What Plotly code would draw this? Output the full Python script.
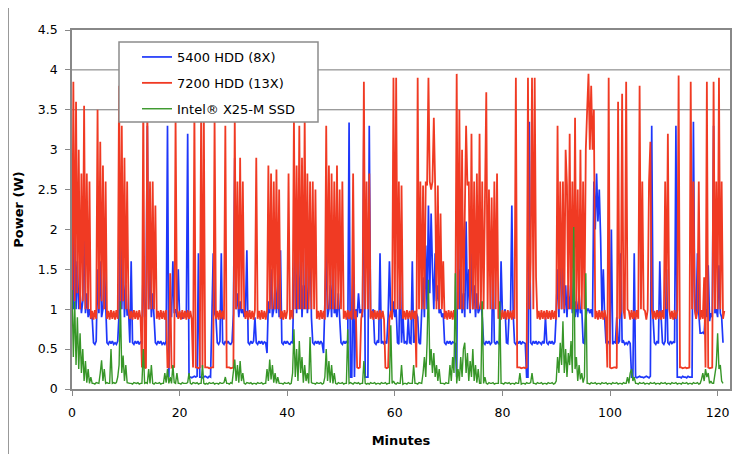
import plotly.graph_objects as go

# sampling step of the power traces, minutes
step_min = 0.25

# 5400 RPM HDD power (W), 4 samples per minute
hdd5400 = [
    2.5, 1.0, 2.3, 1.0,
    1.6, 1.0, 1.2, 0.95,
    1.1, 2.1, 0.95, 1.2,
    0.9, 1.0, 0.88, 0.9,
    0.58, 0.56, 0.6, 1.5,
    0.95, 1.6, 0.9, 1.0,
    1.6, 0.9, 0.58, 0.56,
    0.6, 0.57, 0.6, 0.56,
    0.58, 0.56, 0.6, 0.95,
    2.5, 1.0, 1.7, 0.9,
    1.3, 0.92, 1.0, 0.58,
    1.6, 0.58, 0.56, 0.6,
    0.57, 0.6, 0.56, 0.59,
    0.58, 1.7, 0.9, 0.95,
    3.3, 1.0, 1.5, 0.9,
    1.2, 0.9, 0.58, 0.56,
    0.6, 0.57, 0.6, 0.56,
    0.58, 0.56, 0.6, 3.3,
    0.15, 1.0, 0.9, 1.6,
    0.95, 1.0, 0.9, 1.5,
    0.9, 0.95, 0.88, 0.9,
    0.92, 0.9, 3.2, 0.15,
    0.15, 0.14, 0.15, 0.16,
    0.15, 0.16, 1.7, 0.15,
    0.15, 0.14, 0.15, 0.16,
    0.15, 0.14, 0.16, 0.15,
    0.9, 1.7, 0.95, 0.9,
    0.58, 0.56, 0.6, 1.7,
    0.58, 0.56, 0.6, 0.57,
    0.6, 0.57, 0.56, 0.59,
    0.95, 2.9, 1.0, 1.2,
    0.9, 1.1, 0.95, 1.0,
    0.9, 1.0, 1.74, 0.58,
    0.56, 0.6, 0.57, 0.6,
    0.9, 0.58, 0.56, 0.6,
    0.57, 0.6, 0.56, 0.59,
    0.58, 0.45, 1.1, 0.95,
    1.5, 0.9, 1.0, 1.3,
    0.95, 1.4, 0.9, 1.74,
    0.58, 0.56, 0.6, 0.57,
    0.6, 0.57, 0.56, 0.59,
    0.58, 1.2, 2.1, 0.95,
    1.5, 1.0, 1.8, 0.9,
    1.3, 1.0, 2.0, 0.95,
    1.2, 2.1, 0.9, 0.58,
    0.56, 0.6, 0.57, 0.6,
    0.56, 0.6, 0.57, 0.45,
    0.95, 1.7, 0.9, 1.0,
    1.3, 0.9, 1.7, 0.95,
    1.0, 0.9, 1.2, 0.95,
    0.58, 0.56, 0.6, 0.57,
    0.6, 0.57, 3.34, 0.15,
    0.15, 1.7, 0.15, 1.0,
    0.9, 1.2, 0.95, 1.0,
    0.9, 3.3, 0.15, 0.15,
    0.15, 3.3, 0.9, 0.95,
    1.0, 0.58, 0.56, 0.6,
    0.58, 1.7, 0.57, 0.6,
    0.56, 0.59, 0.57, 0.9,
    1.6, 0.95, 0.9, 1.1,
    0.9, 1.0, 0.58, 0.56,
    1.6, 0.58, 0.95, 0.57,
    0.6, 0.56, 0.9, 0.58,
    0.57, 1.6, 0.58, 0.6,
    0.95, 0.9, 0.58, 0.56,
    1.0, 1.4, 0.9, 1.8,
    1.0, 2.3, 1.2, 2.2,
    1.5, 1.0, 1.7, 1.1,
    1.3, 0.95, 1.0, 0.9,
    0.95, 0.58, 0.56, 0.6,
    0.57, 0.6, 0.56, 0.59,
    0.58, 0.57, 0.15, 2.5,
    1.0, 1.5, 0.95, 1.2,
    0.9, 2.1, 1.0, 1.5,
    0.95, 1.7, 1.0, 1.3,
    0.9, 1.2, 0.95, 1.0,
    1.1, 0.9, 0.58, 0.56,
    0.6, 0.57, 0.6, 0.56,
    0.58, 1.7, 0.59, 0.56,
    0.6, 0.57, 0.59, 1.6,
    0.95, 0.9, 1.0, 0.58,
    0.57, 0.95, 0.9, 2.3,
    0.95, 0.58, 0.56, 0.6,
    0.57, 0.6, 0.56, 0.59,
    0.58, 0.57, 0.15, 0.15,
    3.35, 0.58, 0.56, 0.6,
    0.57, 0.6, 0.56, 0.59,
    0.58, 0.56, 0.6, 0.57,
    0.9, 0.58, 0.56, 0.6,
    0.57, 0.6, 0.56, 0.59,
    0.95, 1.5, 0.9, 2.0,
    1.0, 1.6, 0.95, 1.3,
    0.9, 1.3, 1.0, 1.2,
    0.95, 1.5, 0.9, 1.1,
    0.9, 1.2, 0.95, 1.0,
    0.58, 0.57, 0.9, 1.0,
    1.0, 0.95, 1.0, 0.9,
    2.6, 2.0, 2.7, 2.1,
    2.5, 1.9, 0.95, 1.5,
    0.9, 0.58, 0.56, 0.6,
    0.57, 2.0, 0.56, 0.59,
    0.58, 0.9, 0.57, 0.6,
    1.7, 0.58, 0.6, 0.56,
    0.58, 0.56, 0.6, 0.57,
    0.15, 0.15, 1.7, 0.15,
    0.14, 0.15, 0.16, 0.15,
    0.15, 0.14, 0.15, 0.16,
    0.15, 0.14, 0.16, 3.3,
    0.9, 0.58, 0.56, 0.6,
    0.57, 1.6, 0.9, 0.58,
    0.56, 0.6, 1.5, 0.58,
    0.56, 0.6, 0.57, 0.59,
    0.58, 3.3, 0.15, 0.15,
    0.15, 0.14, 0.16, 0.15,
    0.15, 0.14, 0.16, 0.15,
    0.15, 0.15, 3.35, 1.0,
    0.9, 1.7, 0.95, 0.7,
    0.7, 0.71, 0.69, 1.0,
    0.9, 1.55, 0.85, 0.95,
    0.9, 3.3, 0.95, 1.0,
    0.9, 1.55, 0.95, 0.9,
    0.58,
]

# 7200 RPM HDD power (W), 4 samples per minute
hdd7200 = [
    1.0, 3.85, 1.1, 3.6,
    1.2, 3.0, 1.0, 2.7,
    1.1, 3.55, 1.0, 2.7,
    1.0, 2.6, 0.88, 0.98,
    0.87, 0.99, 0.88, 3.5,
    1.0, 3.1, 1.1, 2.8,
    1.0, 2.6, 0.88, 0.98,
    0.87, 0.99, 0.88, 0.98,
    0.87, 0.99, 0.88, 3.8,
    1.0, 3.3, 1.1, 2.9,
    1.0, 2.6, 1.0, 0.88,
    0.98, 0.87, 0.99, 0.88,
    0.98, 0.87, 0.99, 0.88,
    0.27, 3.65, 0.27, 0.26,
    3.6, 1.0, 2.6, 1.0,
    2.6, 1.0, 2.3, 0.88,
    0.98, 0.87, 0.99, 0.88,
    0.98, 0.87, 0.99, 0.27,
    0.27, 1.45, 0.27, 0.28,
    0.27, 3.4, 1.0, 0.88,
    0.98, 0.87, 0.99, 0.88,
    0.98, 0.87, 0.99, 0.88,
    0.98, 0.87, 0.27, 3.5,
    0.27, 0.27, 0.26, 0.27,
    3.5, 0.27, 3.5, 0.27,
    0.27, 0.27, 0.26, 0.27,
    0.27, 0.27, 3.4, 0.88,
    0.98, 0.87, 0.99, 0.88,
    0.98, 0.87, 3.3, 0.27,
    0.27, 0.27, 0.26, 0.27,
    0.27, 3.4, 1.0, 2.6,
    1.0, 2.9, 1.0, 2.6,
    1.0, 0.88, 0.98, 0.87,
    0.99, 0.88, 0.98, 0.87,
    0.99, 2.9, 0.88, 0.98,
    0.87, 0.99, 0.88, 0.98,
    0.87, 0.99, 2.8, 1.0,
    2.7, 1.0, 2.6, 1.0,
    2.75, 1.0, 2.5, 0.88,
    0.98, 0.87, 0.99, 0.88,
    0.98, 2.7, 0.87, 0.99,
    0.88, 3.4, 1.0, 2.8,
    1.0, 3.3, 1.0, 2.9,
    1.0, 3.4, 1.0, 2.7,
    1.0, 2.6, 1.0, 2.6,
    1.0, 2.5, 0.88, 0.98,
    0.87, 0.99, 0.88, 0.98,
    0.87, 3.3, 1.0, 2.8,
    1.0, 2.7, 1.0, 2.6,
    1.0, 2.8, 1.0, 2.5,
    1.0, 2.6, 0.88, 0.98,
    0.87, 0.99, 0.88, 0.98,
    0.87, 2.7, 0.88, 0.98,
    0.27, 0.26, 0.27, 0.88,
    0.98, 3.85, 1.0, 2.6,
    1.0, 2.7, 0.88, 0.98,
    0.87, 0.99, 0.88, 0.98,
    0.87, 0.99, 0.88, 0.98,
    0.87, 0.27, 0.26, 0.27,
    0.88, 0.98, 0.87, 3.9,
    1.0, 3.9, 1.0, 2.6,
    1.0, 2.55, 0.88, 0.98,
    0.87, 0.99, 0.88, 0.98,
    0.87, 0.99, 0.88, 0.98,
    0.27, 3.9, 1.0, 2.6,
    1.0, 2.55, 1.0, 2.6,
    2.55, 3.9, 2.6, 2.5,
    2.6, 3.4, 2.55, 1.0,
    2.55, 1.0, 2.2, 1.0,
    1.6, 0.88, 0.98, 0.87,
    0.99, 0.88, 0.98, 0.87,
    0.99, 0.88, 3.95, 1.0,
    3.5, 1.0, 3.0, 1.0,
    2.6, 3.3, 2.55, 2.6,
    1.0, 3.2, 1.0, 2.6,
    1.0, 2.7, 1.0, 3.2,
    1.0, 2.6, 1.0, 2.4,
    3.72, 1.0, 2.5, 1.0,
    2.4, 1.0, 2.6, 1.0,
    2.7, 0.88, 0.98, 0.87,
    0.99, 0.88, 0.98, 0.87,
    0.99, 0.88, 0.98, 0.87,
    0.99, 0.88, 3.9, 0.27,
    0.27, 0.27, 0.26, 0.27,
    0.27, 0.26, 0.27, 3.9,
    1.0, 1.6, 3.9, 1.0,
    3.9, 1.4, 0.88, 0.98,
    0.87, 0.99, 0.88, 0.98,
    0.87, 0.99, 0.88, 0.98,
    0.87, 0.99, 0.88, 0.98,
    0.87, 3.3, 1.0, 2.6,
    1.0, 2.6, 1.0, 3.0,
    2.55, 1.0, 3.2, 1.0,
    2.6, 1.0, 3.4, 1.0,
    2.5, 1.0, 3.0, 1.0,
    2.6, 1.0, 3.0, 3.5,
    3.95, 3.0, 3.8, 3.0,
    3.5, 0.88, 0.98, 0.87,
    0.99, 0.88, 0.98, 0.87,
    0.99, 0.88, 0.27, 3.9,
    0.27, 0.26, 0.27, 0.27,
    0.27, 0.26, 3.6, 0.88,
    0.98, 3.7, 1.0, 0.88,
    3.85, 1.0, 0.98, 0.87,
    0.99, 0.88, 0.98, 0.87,
    0.99, 0.88, 3.8, 1.0,
    2.6, 1.0, 0.98, 0.87,
    0.99, 2.6, 3.1, 1.0,
    0.88, 0.98, 0.87, 0.99,
    0.88, 0.98, 0.87, 0.99,
    0.88, 2.6, 1.0, 3.2,
    1.0, 0.88, 0.98, 0.87,
    0.99, 0.88, 0.98, 3.93,
    0.27, 0.27, 0.26, 0.27,
    0.27, 0.26, 0.27, 0.27,
    3.85, 1.0, 2.6, 1.0,
    0.88, 0.98, 2.6, 0.87,
    0.99, 0.88, 1.4, 0.27,
    3.85, 0.27, 0.26, 0.27,
    0.27, 3.85, 1.0, 2.6,
    1.0, 3.9, 1.0, 2.6,
    0.88, 0.98,
]

# Intel X25-M SSD power (W), 4 samples per minute
ssd_x25m = [
    1.24, 0.4, 1.1, 0.3,
    0.9, 0.25, 0.7, 0.2,
    0.5, 0.1, 0.35, 0.08,
    0.25, 0.07, 0.15, 0.07,
    0.07, 0.06, 0.08, 0.07,
    0.07, 0.2, 0.36, 0.1,
    0.25, 0.07, 0.08, 0.07,
    0.07, 0.5, 0.07, 0.08,
    0.07, 0.08, 0.15, 0.3,
    1.1, 0.2, 0.42, 0.1,
    0.3, 0.08, 0.07, 0.07,
    0.07, 0.06, 0.08, 0.07,
    0.07, 0.08, 0.06, 0.07,
    0.07, 0.5, 0.07, 0.08,
    0.07, 0.25, 0.07, 0.3,
    0.07, 0.06, 0.08, 0.07,
    0.07, 0.08, 0.06, 0.07,
    0.07, 0.2, 0.08, 0.25,
    0.07, 0.15, 0.07, 0.3,
    0.08, 0.07, 0.2, 0.07,
    0.07, 0.06, 0.08, 0.07,
    0.07, 0.07, 0.08, 0.2,
    0.07, 0.06, 0.08, 0.07,
    0.07, 0.08, 0.06, 0.07,
    0.07, 0.3, 0.07, 0.06,
    0.07, 0.06, 0.08, 0.07,
    0.07, 0.08, 0.06, 0.07,
    0.07, 0.06, 0.08, 0.07,
    0.07, 0.08, 0.15, 0.07,
    0.07, 0.06, 0.08, 0.07,
    0.2, 0.37, 0.1, 0.3,
    0.08, 0.35, 0.1, 0.2,
    0.07, 0.06, 0.08, 0.07,
    0.07, 0.08, 0.06, 0.07,
    0.07, 0.06, 0.08, 0.07,
    0.07, 0.08, 0.06, 0.07,
    0.07, 0.25, 0.1, 0.37,
    0.12, 0.3, 0.08, 0.2,
    0.07, 0.15, 0.07, 0.07,
    0.07, 0.06, 0.08, 0.07,
    0.07, 0.08, 0.06, 0.07,
    0.2, 0.75, 0.15, 0.5,
    0.1, 0.6, 0.2, 0.4,
    0.08, 0.3, 0.1, 0.2,
    0.07, 0.65, 0.08, 0.07,
    0.07, 0.06, 0.08, 0.07,
    0.07, 0.08, 0.06, 0.07,
    0.15, 0.5, 0.1, 0.35,
    0.08, 0.3, 0.07, 0.2,
    0.07, 0.06, 0.08, 0.07,
    0.07, 0.08, 0.06, 0.07,
    0.07, 0.75, 0.07, 0.08,
    0.07, 0.06, 0.08, 0.07,
    0.07, 0.08, 0.06, 0.07,
    0.07, 0.35, 0.07, 0.06,
    0.07, 0.06, 0.08, 0.07,
    0.07, 0.08, 0.06, 0.07,
    0.07, 0.06, 0.08, 0.07,
    0.07, 0.08, 0.06, 0.07,
    0.07, 0.8, 0.07, 0.1,
    0.07, 0.06, 0.08, 0.07,
    0.07, 0.3, 0.06, 0.07,
    0.07, 0.06, 0.08, 0.07,
    0.07, 0.07, 0.3, 0.07,
    0.07, 0.06, 0.08, 0.07,
    0.07, 0.2, 0.4, 0.15,
    0.58, 1.37, 0.3, 0.5,
    0.2, 0.45, 0.15, 0.3,
    0.1, 0.25, 0.07, 0.07,
    0.07, 0.06, 0.08, 0.07,
    0.07, 0.3, 0.1, 0.4,
    0.2, 1.45, 0.07, 0.25,
    0.1, 0.4, 0.15, 0.5,
    0.58, 0.2, 0.45, 0.1,
    0.35, 0.15, 0.5, 0.1,
    0.3, 0.08, 0.25, 0.07,
    0.07, 1.1, 0.07, 0.15,
    0.07, 0.06, 0.08, 0.07,
    0.07, 0.08, 0.06, 0.07,
    0.07, 0.07, 1.1, 0.07,
    0.07, 0.06, 0.08, 0.07,
    0.07, 0.08, 0.06, 0.07,
    0.07, 0.06, 0.08, 0.07,
    0.07, 0.2, 0.06, 0.07,
    0.07, 0.06, 0.08, 0.07,
    0.07, 0.08, 0.2, 0.07,
    0.07, 0.06, 0.08, 0.07,
    0.07, 0.08, 0.06, 0.07,
    0.07, 0.06, 0.08, 0.07,
    0.07, 0.08, 0.06, 0.07,
    0.1, 0.4, 0.2, 0.58,
    0.3, 0.85, 0.2, 0.5,
    0.15, 0.45, 0.3, 0.6,
    0.2, 2.03, 0.25, 0.4,
    0.1, 0.3, 0.12, 0.2,
    0.08, 0.15, 1.45, 0.07,
    0.07, 0.06, 0.08, 0.07,
    0.07, 0.08, 0.06, 0.07,
    0.07, 0.06, 0.08, 0.07,
    0.07, 0.08, 0.06, 0.07,
    0.07, 0.06, 0.08, 0.07,
    0.07, 0.08, 0.06, 0.07,
    0.07, 0.06, 0.08, 0.07,
    0.07, 0.15, 0.07, 0.2,
    0.25, 0.1, 0.15, 0.07,
    0.07, 0.06, 0.08, 0.07,
    0.07, 0.08, 0.06, 0.07,
    0.07, 0.06, 0.08, 0.07,
    0.07, 0.08, 0.06, 0.07,
    0.07, 0.06, 0.08, 0.07,
    0.07, 0.08, 0.06, 0.07,
    0.07, 0.06, 0.08, 0.07,
    0.07, 0.08, 0.06, 0.07,
    0.07, 0.06, 0.08, 0.07,
    0.07, 0.08, 0.06, 0.07,
    0.07, 0.06, 0.08, 0.07,
    0.07, 0.08, 0.06, 0.07,
    0.12, 0.2, 0.1, 0.25,
    0.15, 0.2, 0.07, 0.1,
    0.07, 0.07, 0.2, 0.3,
    0.7, 0.25, 0.3, 0.1,
    0.07,
]

series_names = ["5400 HDD (8X)", "7200 HDD (13X)", "Intel® X25-M SSD"]
series_colors = ["rgb(30,55,250)", "rgb(240,58,35)", "rgb(55,150,40)"]
series_widths = [1.7, 1.8, 1.4]
series_values = [hdd5400, hdd7200, ssd_x25m]

y_ticks = [0, 0.5, 1, 1.5, 2, 2.5, 3, 3.5, 4, 4.5]
y_tick_labels = ["0", "0.5", "1", "1.5", "2", "2.5", "3", "3.5", "4", "4.5"]
x_ticks = [0, 20, 40, 60, 80, 100, 120]
dark_grid = [3.5, 4]

fig = go.Figure()
for i, (name, col, wd, vals) in enumerate(zip(series_names, series_colors, series_widths, series_values)):
    fig.add_trace(go.Scatter(
        y=vals, x0=0, dx=step_min, mode="lines", name=name,
        line=dict(color=col, width=wd), legendgroup=str(i),
    ))

font_family = "DejaVu Sans"
OFF = 8  # page body margin
W, H = 740, 446
L, R, T, B = 64, 18, 22, 65
pw, ph = W - L - R, H - T - B

def px_x(sx):
    return (sx - OFF - L) / pw

def px_y(sy):
    return (H - B - (sy - OFF)) / ph

shapes = []
for g in dark_grid:
    shapes.append(dict(type="line", xref="paper", yref="y", x0=0, x1=1, y0=g, y1=g,
                       line=dict(color="#777777", width=1), layer="below"))
# legend box
shapes.append(dict(type="rect", xref="paper", yref="paper",
                   x0=px_x(119), x1=px_x(318), y0=px_y(122), y1=px_y(42),
                   fillcolor="white", line=dict(color="#8c8c8c", width=1.5), layer="above"))
# outer chart border
shapes.append(dict(type="rect", xref="paper", yref="paper",
                   x0=px_x(8), x1=px_x(790), y0=px_y(500), y1=px_y(6),
                   fillcolor="rgba(0,0,0,0)", line=dict(color="#999999", width=2), layer="above"))

fig.update_layout(
    width=W, height=H,
    margin=dict(l=L, r=R, t=T, b=B, autoexpand=False),
    paper_bgcolor="white", plot_bgcolor="white",
    font=dict(family=font_family, size=12, color="black"),
    shapes=shapes,
    showlegend=True,
    legend=dict(x=px_x(137), y=px_y(42), xanchor="left", yanchor="top",
                bgcolor="rgba(0,0,0,0)", borderwidth=0,
                font=dict(family=font_family, size=13, color="black"),
                tracegroupgap=6, traceorder="grouped"),
    xaxis=dict(range=[0, 122.3], tickvals=x_ticks, ticks="outside", ticklen=5,
               tickcolor="#888888", showgrid=False, zeroline=False, automargin=False,
               showline=True, linecolor="#888888", linewidth=1.5, mirror=True,
               tickfont=dict(size=12.5), ticklabelstandoff=6,
               title=dict(text="<b>Minutes</b>", font=dict(size=13), standoff=17)),
    yaxis=dict(range=[0, 4.5], tickvals=y_ticks, ticktext=y_tick_labels, ticks="outside",
               ticklen=5, tickcolor="#888888", showgrid=False, zeroline=False, automargin=False,
               showline=True, linecolor="#888888", linewidth=1.5, mirror=True,
               tickfont=dict(size=12.5), ticklabelstandoff=5,
               title=dict(text="<b>Power (W)</b>", font=dict(size=13), standoff=11)),
)

fig.write_html("out.html")
